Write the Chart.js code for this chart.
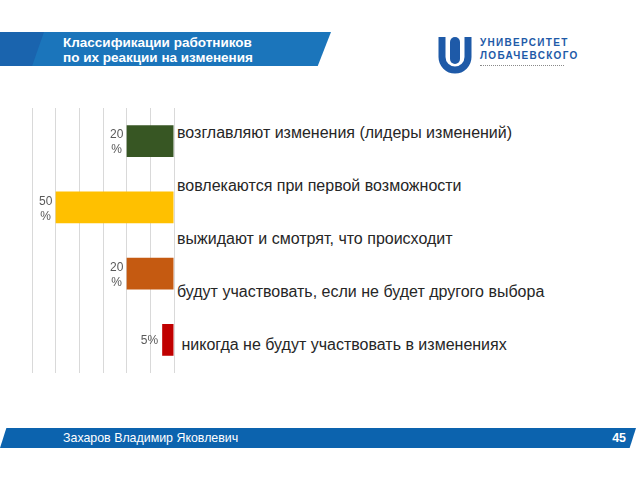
<!DOCTYPE html>
<html lang="ru">
<head>
  <meta charset="UTF-8" />
  <title>Классификации работников</title>
  <script src="https://cdn.jsdelivr.net/npm/chart.js"></script>
  <style>
    body {
      margin: 0;
      width: 640px;
      height: 480px;
      background: #fff;
      font-family: "Liberation Sans", Arial, sans-serif;
      position: relative;
      overflow: hidden;
    }
    .header {
      position: absolute;
      left: 0;
      top: 32px;
      width: 331px;
      height: 34px;
      background: #1b75bb;
      clip-path: polygon(0 0, 100% 0, 96% 100%, 0 100%);
    }
    .header-left {
      position: absolute;
      left: 0;
      top: 0;
      width: 44px;
      height: 34px;
      background: #1a64ae;
      clip-path: polygon(0 0, 100% 0, 73% 100%, 0 100%);
    }
    .header-text {
      position: absolute;
      left: 63px;
      top: 3px;
      color: #fff;
      font-weight: bold;
      font-size: 13.5px;
      line-height: 15px;
    }
    .logo {
      position: absolute;
      left: 436px;
      top: 36px;
    }
    .logo-text {
      position: absolute;
      left: 480px;
      top: 36px;
      color: #1e5aa8;
      font-weight: bold;
      font-size: 10px;
      line-height: 13px;
      letter-spacing: 1.3px;
    }
    .logo-small {
      position: absolute;
      left: 480px;
      top: 65px;
      width: 84px;
      height: 2px;
      border-top: 1px dotted #8a8a8a;
    }
    #wrap {
      position: absolute;
      left: 28px;
      top: 104px;
      width: 149px;
      height: 272px;
    }
    .labels {
      position: absolute;
      left: 177px;
      top: 106px;
      font-size: 16px;
      color: #262626;
      line-height: 53px;
      white-space: nowrap;
    }
    .footer {
      position: absolute;
      left: 0;
      top: 428px;
      width: 636px;
      height: 20px;
      background: #0c63ae;
      clip-path: polygon(1% 0, 100% 0, 99% 100%, 0 100%);
      color: #fff;
      font-size: 12.4px;
      line-height: 20px;
    }
    .footer .name { position: absolute; left: 63px; }
    .footer .page { position: absolute; right: 10px; font-weight: bold; }
  </style>
</head>
<body>
<div class="header">
  <div class="header-left"></div>
  <div class="header-text">Классификации работников<br>по их реакции на изменения</div>
</div>

<svg class="logo" width="38" height="38" viewBox="0 0 38 38">
  <path d="M6 1 V21 A13 13 0 0 0 32 21 V1" stroke="#1e5aa8" stroke-width="7" fill="none" />
  <rect x="14" y="1" width="10" height="27" rx="5" fill="#1e5aa8" />
</svg>
<div class="logo-text">УНИВЕРСИТЕТ<br>ЛОБАЧЕВСКОГО</div>
<div class="logo-small"></div>

<div id="wrap"><canvas id="chart"></canvas></div>

<div class="labels" id="labels"></div>

<div class="footer">
  <span class="name">Захаров Владимир Яковлевич</span>
  <span class="page">45</span>
</div>

<script>
  // подписи справа от диаграммы (отдельный текст слайда)
  const categories = [
    'возглавляют изменения (лидеры изменений)',
    'вовлекаются при первой возможности',
    'выжидают и смотрят, что происходит',
    'будут участвовать, если не будет другого выбора',
    '\u00a0никогда не будут участвовать в изменениях',
  ];
  // столбцы диаграммы
  const barLabels = ['лидеры', 'вовлекаются', 'будут участвовать', 'никогда'];
  const values = [20, 50, 20, 5];
  const barColors = ['#375623', '#ffc000', '#c55a11', '#c00000'];
  const xTicks = [0, 10, 20, 30, 40, 50, 60];

  document.getElementById('labels').innerHTML = categories.map((c) => `<div>${c}</div>`).join('');

  const valueLabels = {
    id: 'valueLabels',
    afterDatasetsDraw(chart) {
      const ctx = chart.ctx;
      const meta = chart.getDatasetMeta(0);
      ctx.save();
      ctx.fillStyle = '#595959';
      ctx.font = '12px "Liberation Sans", Arial, sans-serif';
      ctx.textBaseline = 'middle';
      meta.data.forEach((bar, i) => {
        const v = values[i];
        const left = Math.min(bar.x, bar.base);
        if (v >= 10) {
          ctx.textAlign = 'center';
          ctx.fillText(String(v), left - 10, bar.y - 6);
          ctx.fillText('%', left - 10, bar.y + 9);
        } else {
          ctx.textAlign = 'right';
          ctx.fillText(v + '%', left - 4, bar.y + 1);
        }
      });
      ctx.restore();
    },
  };

  new Chart(document.getElementById('chart'), {
    type: 'bar',
    data: {
      labels: barLabels,
      datasets: [{
        data: values,
        backgroundColor: barColors,
        barPercentage: 0.48,
        categoryPercentage: 1,
      }],
    },
    options: {
      indexAxis: 'y',
      responsive: true,
      maintainAspectRatio: false,
      animation: false,
      layout: { padding: { left: 4, right: 3, top: 4, bottom: 3 } },
      plugins: { legend: { display: false }, tooltip: { enabled: false } },
      scales: {
        x: {
          reverse: true,
          min: xTicks[0],
          max: xTicks[xTicks.length - 1],
          afterBuildTicks: (axis) => { axis.ticks = xTicks.map((v) => ({ value: v })); },
          ticks: { display: false },
          grid: { color: '#d9d9d9', drawTicks: false },
          border: { display: false },
        },
        y: { display: false },
      },
    },
    plugins: [valueLabels],
  });
</script>
</body>
</html>
